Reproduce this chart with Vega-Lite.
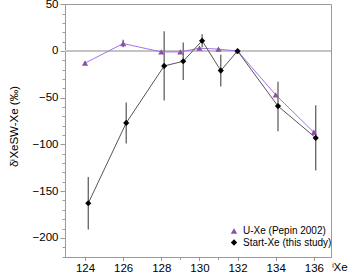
{
  "$schema": "https://vega.github.io/schema/vega-lite/v6.json",
  "width": 266,
  "height": 253,
  "autosize": {"type": "none"},
  "padding": {"left": 65, "top": 4, "right": 19, "bottom": 16},
  "background": "white",
  "config": {
    "font": "Liberation Sans",
    "view": {"stroke": "#9a9a9a", "strokeWidth": 1},
    "axis": {"labelFont": "Liberation Sans", "titleFont": "Liberation Sans", "labelColor": "#000", "titleColor": "#000", "labelFontSize": 11.5, "titleFontSize": 11.5, "titleFontWeight": "normal", "grid": false, "domainColor": "#9a9a9a", "tickColor": "#9a9a9a", "labelOverlap": false, "labelFlush": false}
  },
  "data": {
    "values": [
      {"series": "U-Xe (Pepin 2002)", "x": 124, "y": -13, "lo": -15, "hi": -11},
      {"series": "U-Xe (Pepin 2002)", "x": 126, "y": 8, "lo": 4, "hi": 12},
      {"series": "U-Xe (Pepin 2002)", "x": 128, "y": -1, "lo": -2, "hi": 0},
      {"series": "U-Xe (Pepin 2002)", "x": 129, "y": -1, "lo": -1.5, "hi": -0.5},
      {"series": "U-Xe (Pepin 2002)", "x": 130, "y": 3, "lo": 2.5, "hi": 3.5},
      {"series": "U-Xe (Pepin 2002)", "x": 131, "y": 2, "lo": 1.5, "hi": 2.5},
      {"series": "U-Xe (Pepin 2002)", "x": 132, "y": 0, "lo": 0, "hi": 0},
      {"series": "U-Xe (Pepin 2002)", "x": 134, "y": -47, "lo": -48, "hi": -46},
      {"series": "U-Xe (Pepin 2002)", "x": 136, "y": -87, "lo": -88, "hi": -86},
      {"series": "Start-Xe (this study)", "x": 124.17, "y": -163, "lo": -191, "hi": -135},
      {"series": "Start-Xe (this study)", "x": 126.16, "y": -77, "lo": -99, "hi": -55},
      {"series": "Start-Xe (this study)", "x": 128.15, "y": -16, "lo": -53, "hi": 21},
      {"series": "Start-Xe (this study)", "x": 129.15, "y": -11, "lo": -31, "hi": 9},
      {"series": "Start-Xe (this study)", "x": 130.14, "y": 11, "lo": 4, "hi": 18},
      {"series": "Start-Xe (this study)", "x": 131.12, "y": -21, "lo": -38, "hi": -4},
      {"series": "Start-Xe (this study)", "x": 132, "y": 0, "lo": 0, "hi": 0},
      {"series": "Start-Xe (this study)", "x": 134.12, "y": -59, "lo": -86, "hi": -33},
      {"series": "Start-Xe (this study)", "x": 136.1, "y": -93, "lo": -128, "hi": -58}
    ]
  },
  "resolve": {"axis": {"x": "independent", "y": "independent"}},
  "layer": [
    {
      "mark": {"type": "rule", "color": "#c4c4c4", "strokeWidth": 2},
      "encoding": {
        "y": {"datum": 0, "type": "quantitative", "scale": {"domain": [-220.5, 50.3], "nice": false, "zero": false},
          "axis": {"orient": "left", "values": [40, 30, 20, 10, -10, -20, -30, -40, -60, -70, -80, -90, -110, -120, -130, -140, -160, -170, -180, -190, -210, -220], "labels": false, "tickSize": 3, "domain": false, "title": null}}
      }
    },
    {
      "mark": {"type": "rule", "color": "#555", "strokeWidth": 1.2},
      "encoding": {
        "x": {"field": "x", "type": "quantitative",
          "axis": {"orient": "bottom", "values": [129, 131], "labels": false, "tickSize": 2.5, "domain": false, "title": null}},
        "y": {"field": "lo", "type": "quantitative", "axis": null},
        "y2": {"field": "hi"}
      }
    },
    {
      "mark": {"type": "line", "strokeWidth": 1},
      "encoding": {
        "x": {"field": "x", "type": "quantitative", "axis": null},
        "y": {"field": "y", "type": "quantitative", "axis": null},
        "stroke": {"field": "series", "type": "nominal", "scale": {"domain": ["Start-Xe (this study)", "U-Xe (Pepin 2002)"], "range": ["#555555", "#a470f2"]}, "legend": null},
        "order": {"field": "x", "type": "quantitative"}
      }
    },
    {
      "mark": {"type": "point", "filled": true, "opacity": 1, "size": 38},
      "encoding": {
        "x": {
          "field": "x", "type": "quantitative",
          "scale": {"domain": [122.95, 136.9], "nice": false, "zero": false},
          "axis": {
            "orient": "bottom",
            "values": [124, 126, 128, 130, 132, 134, 136],
            "labelOverlap": false,
            "labelFlush": false,
            "tickSize": 3.5,
            "labelPadding": 2,
            "title": "ⁱXe",
            "titleAlign": "left",
            "titleBaseline": "top",
            "titleX": 266,
            "titleY": 4,
            "titleAnchor": null
          }
        },
        "y": {
          "field": "y", "type": "quantitative",
          "axis": {
            "orient": "left",
            "values": [50, 0, -50, -100, -150, -200],
            "labelOverlap": false,
            "labelFlush": false,
            "tickSize": 5,
            "labelPadding": 2,
            "title": "δⁱXeSW-Xe (‰)",
            "titleAngle": -90,
            "titleAlign": "center",
            "titleBaseline": "middle",
            "titleX": -51,
            "titleY": 122
          }
        },
        "shape": {
          "field": "series", "type": "nominal",
          "scale": {"domain": ["U-Xe (Pepin 2002)", "Start-Xe (this study)"], "range": ["triangle-up", "diamond"]},
          "legend": {
            "title": null,
            "orient": "none",
            "legendX": 164,
            "legendY": 222,
            "padding": 0,
            "labelFont": "Liberation Sans",
            "labelFontSize": 10,
            "labelColor": "#000",
            "symbolSize": 40,
            "rowPadding": 1.5,
            "labelOffset": 4
          }
        },
        "color": {
          "field": "series", "type": "nominal",
          "scale": {"domain": ["U-Xe (Pepin 2002)", "Start-Xe (this study)"], "range": ["#8c4fa6", "#000000"]},
          "legend": {
            "title": null,
            "orient": "none",
            "legendX": 164,
            "legendY": 222,
            "padding": 0,
            "labelFont": "Liberation Sans",
            "labelFontSize": 10,
            "labelColor": "#000",
            "symbolSize": 40,
            "rowPadding": 1.5,
            "labelOffset": 4
          }
        }
      }
    }
  ]
}
